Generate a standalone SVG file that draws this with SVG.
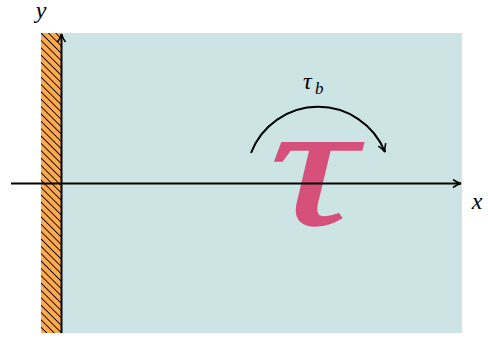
<svg xmlns="http://www.w3.org/2000/svg" width="488" height="339" viewBox="0 0 488 339">
<style>
.ax{stroke:#000;stroke-width:2;fill:none}
.lbl{font-family:"Liberation Serif",serif;font-style:italic;fill:#000}
</style>
<defs>
<pattern id="hatch" patternUnits="userSpaceOnUse" width="5.2" height="5.2" patternTransform="rotate(-45)">
<rect width="5.2" height="5.2" fill="#ffaa4f"/>
<line x1="0" y1="0" x2="0" y2="5.2" stroke="#000" stroke-width="1.8"/>
</pattern>
<marker id="arr" viewBox="0 0 10 10" refX="9" refY="5" markerWidth="10" markerHeight="10" markerUnits="userSpaceOnUse" orient="auto">
<path d="M1,1 Q5,4 9,5 Q5,6 1,9" fill="none" stroke="#000" stroke-width="1.6"/>
</marker>
</defs>
<g id="domain">
<rect x="61" y="33" width="401" height="300" fill="#cce5e4"/>
</g>
<g id="wall">
<rect x="41" y="33" width="20" height="300" fill="url(#hatch)"/>
</g>
<g id="torque">
<text transform="translate(313,224) scale(1.35,1)" x="0" y="0" font-family="Liberation Serif,serif" font-style="italic" font-size="178" fill="#d6507c" stroke="#d6507c" stroke-width="1.5" text-anchor="middle">τ</text>
</g>
<g id="connectors">
<line class="ax" x1="11" y1="183.5" x2="461" y2="183.5" marker-end="url(#arr)"/>
<line class="ax" x1="61.5" y1="333" x2="61.5" y2="34" marker-end="url(#arr)"/>
<path class="ax" d="M251,153 A72,72 0 0 1 385,152" marker-end="url(#arr)"/>
</g>
<g id="labels">
<text class="lbl" x="41" y="18" font-size="24" text-anchor="middle">y</text>
<text class="lbl" x="477" y="209" font-size="24" text-anchor="middle">x</text>
<text class="lbl" x="303" y="89" font-size="24">τ</text>
<text class="lbl" x="315" y="94" font-size="17">b</text>
</g>
</svg>
